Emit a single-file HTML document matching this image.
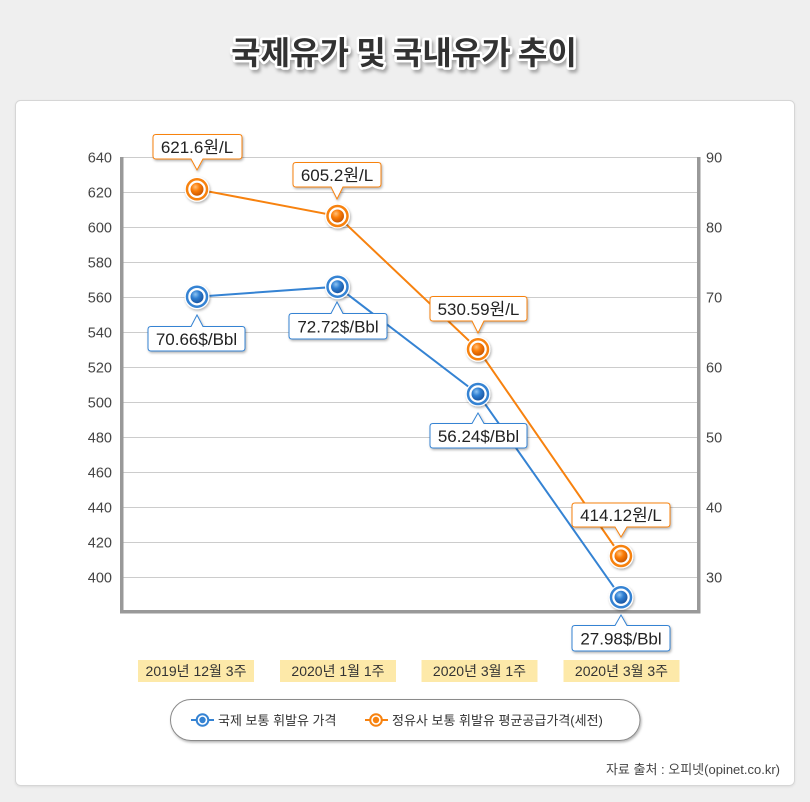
<!DOCTYPE html>
<html><head><meta charset="utf-8">
<style>
html,body{margin:0;padding:0;background:#efefef;}
svg{display:block;}
text{font-family:"Liberation Sans","Noto Sans CJK KR",sans-serif;}
</style></head>
<body>
<svg width="810" height="802" viewBox="0 0 810 802" xmlns="http://www.w3.org/2000/svg">
<defs>
  <filter id="sh" x="-30%" y="-30%" width="160%" height="160%">
    <feDropShadow dx="1" dy="1.5" stdDeviation="1.2" flood-color="#000" flood-opacity="0.3"/>
  </filter>
  <filter id="tsh" x="-10%" y="-30%" width="120%" height="160%">
    <feDropShadow dx="2" dy="3" stdDeviation="1.5" flood-color="#000" flood-opacity="0.3"/>
  </filter>
  <filter id="csh" x="-5%" y="-5%" width="110%" height="110%">
    <feDropShadow dx="0" dy="1" stdDeviation="1" flood-color="#000" flood-opacity="0.08"/>
  </filter>
  <radialGradient id="gO" cx="38%" cy="32%" r="70%">
    <stop offset="0" stop-color="#ffc07a"/>
    <stop offset="0.45" stop-color="#fb7d08"/>
    <stop offset="1" stop-color="#c95600"/>
  </radialGradient>
  <radialGradient id="gB" cx="38%" cy="32%" r="70%">
    <stop offset="0" stop-color="#8fc4f2"/>
    <stop offset="0.45" stop-color="#2f7fd2"/>
    <stop offset="1" stop-color="#1a55a0"/>
  </radialGradient>
</defs>

<!-- title -->
<text x="404" y="64" text-anchor="middle" font-size="32" font-weight="700" fill="#333" stroke="#fff" stroke-width="5" stroke-linejoin="round" paint-order="stroke" filter="url(#tsh)" style="font-family:'Noto Sans CJK KR',sans-serif">국제유가 및 국내유가 추이</text>

<!-- card -->
<rect x="15.5" y="100.5" width="779" height="685" rx="5" fill="#fff" stroke="#d6d6d6" filter="url(#csh)"/>

<!-- grid -->
<g stroke="#cccccc" stroke-width="1">
  <line x1="122" y1="157.5" x2="698" y2="157.5"/>
  <line x1="122" y1="192.5" x2="698" y2="192.5"/>
  <line x1="122" y1="227.5" x2="698" y2="227.5"/>
  <line x1="122" y1="262.5" x2="698" y2="262.5"/>
  <line x1="122" y1="297.5" x2="698" y2="297.5"/>
  <line x1="122" y1="332.5" x2="698" y2="332.5"/>
  <line x1="122" y1="367.5" x2="698" y2="367.5"/>
  <line x1="122" y1="402.5" x2="698" y2="402.5"/>
  <line x1="122" y1="437.5" x2="698" y2="437.5"/>
  <line x1="122" y1="472.5" x2="698" y2="472.5"/>
  <line x1="122" y1="507.5" x2="698" y2="507.5"/>
  <line x1="122" y1="542.5" x2="698" y2="542.5"/>
  <line x1="122" y1="577.5" x2="698" y2="577.5"/>
</g>

<!-- axes -->
<rect x="120" y="157" width="3.5" height="456" fill="#999"/>
<rect x="697" y="157" width="3.5" height="456" fill="#999"/>
<rect x="120" y="610" width="580.5" height="3.5" fill="#999"/>

<!-- left tick labels -->
<g font-size="14.5" fill="#444" text-anchor="end">
  <text x="112" y="162.5">640</text>
  <text x="112" y="197.5">620</text>
  <text x="112" y="232.5">600</text>
  <text x="112" y="267.5">580</text>
  <text x="112" y="302.5">560</text>
  <text x="112" y="337.5">540</text>
  <text x="112" y="372.5">520</text>
  <text x="112" y="407.5">500</text>
  <text x="112" y="442.5">480</text>
  <text x="112" y="477.5">460</text>
  <text x="112" y="512.5">440</text>
  <text x="112" y="547.5">420</text>
  <text x="112" y="582.5">400</text>
</g>
<!-- right tick labels -->
<g font-size="14.5" fill="#444" text-anchor="start">
  <text x="706" y="162.5">90</text>
  <text x="706" y="232.5">80</text>
  <text x="706" y="302.5">70</text>
  <text x="706" y="372.5">60</text>
  <text x="706" y="442.5">50</text>
  <text x="706" y="512.5">40</text>
  <text x="706" y="582.5">30</text>
</g>

<!-- series lines -->
<polyline points="197,296.7 337.5,286.7 478,394 621,597.3" fill="none" stroke="#3583d3" stroke-width="2"/>
<polyline points="197,189.3 337.5,216 478,349.3 621,556" fill="none" stroke="#f7820f" stroke-width="2"/>

<!-- callouts orange (pointer down) -->
<g fill="#fff" stroke="#f7820f" stroke-width="1" filter="url(#sh)">
  <path d="M156,134.5 H239 Q242,134.5 242,137.5 V156 Q242,159 239,159 H203 L197,170 L191,159 H156 Q153,159 153,156 V137.5 Q153,134.5 156,134.5 Z"/>
  <path d="M296,162.5 H378 Q381,162.5 381,165.5 V184 Q381,187 378,187 H343 L337,199 L331,187 H296 Q293,187 293,184 V165.5 Q293,162.5 296,162.5 Z"/>
  <path d="M433,296.5 H524 Q527,296.5 527,299.5 V318 Q527,321 524,321 H484 L478,333 L472,321 H433 Q430,321 430,318 V299.5 Q430,296.5 433,296.5 Z"/>
  <path d="M575,503 H667 Q670,503 670,506 V524 Q670,527 667,527 H627 L621,537 L615,527 H575 Q572,527 572,524 V506 Q572,503 575,503 Z"/>
</g>
<!-- callouts blue (pointer up) -->
<g fill="#fff" stroke="#3583d3" stroke-width="1" filter="url(#sh)">
  <path d="M151,326.5 H191 L197,315 L203,326.5 H242 Q245,326.5 245,329.5 V348 Q245,351 242,351 H151 Q148,351 148,348 V329.5 Q148,326.5 151,326.5 Z"/>
  <path d="M292,313.5 H331 L337,302 L343,313.5 H384 Q387,313.5 387,316.5 V336 Q387,339 384,339 H292 Q289,339 289,336 V316.5 Q289,313.5 292,313.5 Z"/>
  <path d="M433,423.5 H472 L478,413 L484,423.5 H524 Q527,423.5 527,426.5 V445 Q527,448 524,448 H433 Q430,448 430,445 V426.5 Q430,423.5 433,423.5 Z"/>
  <path d="M575,625.5 H615 L621,615 L627,625.5 H667 Q670,625.5 670,628.5 V648 Q670,651 667,651 H575 Q572,651 572,648 V628.5 Q572,625.5 575,625.5 Z"/>
</g>

<g font-size="17" fill="#222" text-anchor="middle">
  <text x="197" y="153">621.6원/L</text>
  <text x="337" y="181">605.2원/L</text>
  <text x="478.5" y="315">530.59원/L</text>
  <text x="621" y="521">414.12원/L</text>
  <text x="196.5" y="345">70.66$/Bbl</text>
  <text x="338" y="332.5">72.72$/Bbl</text>
  <text x="478.5" y="442">56.24$/Bbl</text>
  <text x="621" y="644.5">27.98$/Bbl</text>
</g>

<!-- markers orange -->
<g>
  <g transform="translate(197,189.3)"><circle r="12.5" fill="#fff" filter="url(#sh)"/><circle r="10" fill="#fff" stroke="#f7820f" stroke-width="2.5"/><circle r="6.5" fill="url(#gO)"/></g>
  <g transform="translate(337.5,216)"><circle r="12.5" fill="#fff" filter="url(#sh)"/><circle r="10" fill="#fff" stroke="#f7820f" stroke-width="2.5"/><circle r="6.5" fill="url(#gO)"/></g>
  <g transform="translate(478,349.3)"><circle r="12.5" fill="#fff" filter="url(#sh)"/><circle r="10" fill="#fff" stroke="#f7820f" stroke-width="2.5"/><circle r="6.5" fill="url(#gO)"/></g>
  <g transform="translate(621,556)"><circle r="12.5" fill="#fff" filter="url(#sh)"/><circle r="10" fill="#fff" stroke="#f7820f" stroke-width="2.5"/><circle r="6.5" fill="url(#gO)"/></g>
</g>
<!-- markers blue -->
<g>
  <g transform="translate(197,296.7)"><circle r="12.5" fill="#fff" filter="url(#sh)"/><circle r="10" fill="#fff" stroke="#3583d3" stroke-width="2.5"/><circle r="6.5" fill="url(#gB)"/></g>
  <g transform="translate(337.5,286.7)"><circle r="12.5" fill="#fff" filter="url(#sh)"/><circle r="10" fill="#fff" stroke="#3583d3" stroke-width="2.5"/><circle r="6.5" fill="url(#gB)"/></g>
  <g transform="translate(478,394)"><circle r="12.5" fill="#fff" filter="url(#sh)"/><circle r="10" fill="#fff" stroke="#3583d3" stroke-width="2.5"/><circle r="6.5" fill="url(#gB)"/></g>
  <g transform="translate(621,597.3)"><circle r="12.5" fill="#fff" filter="url(#sh)"/><circle r="10" fill="#fff" stroke="#3583d3" stroke-width="2.5"/><circle r="6.5" fill="url(#gB)"/></g>
</g>

<!-- category labels -->
<g fill="#fde9a9">
  <rect x="138" y="660" width="116" height="22"/>
  <rect x="280" y="660" width="116" height="22"/>
  <rect x="421.5" y="660" width="116" height="22"/>
  <rect x="563.5" y="660" width="116" height="22"/>
</g>
<g font-size="14" fill="#333" text-anchor="middle">
  <text x="196" y="676">2019년 12월 3주</text>
  <text x="338" y="676">2020년 1월 1주</text>
  <text x="479.5" y="676">2020년 3월 1주</text>
  <text x="621.5" y="676">2020년 3월 3주</text>
</g>

<!-- legend -->
<rect x="170.5" y="699.5" width="469.5" height="41" rx="20.5" fill="#fff" stroke="#8a8a8a" stroke-width="1" filter="url(#sh)"/>
<g>
  <line x1="191" y1="720" x2="214" y2="720" stroke="#3583d3" stroke-width="2"/>
  <circle cx="202.5" cy="720" r="5.8" fill="#fff" stroke="#3583d3" stroke-width="2"/>
  <circle cx="202.5" cy="720" r="3.2" fill="#3583d3"/>
  <text x="218" y="725" font-size="13" fill="#333">국제 보통 휘발유 가격</text>
  <line x1="365" y1="720" x2="388" y2="720" stroke="#f7820f" stroke-width="2"/>
  <circle cx="376" cy="720" r="5.8" fill="#fff" stroke="#f7820f" stroke-width="2"/>
  <circle cx="376" cy="720" r="3.2" fill="#f7820f"/>
  <text x="392" y="725" font-size="13" fill="#333">정유사 보통 휘발유 평균공급가격(세전)</text>
</g>

<!-- footer -->
<text x="780" y="774" text-anchor="end" font-size="13" fill="#444">자료 출처 : 오피넷(opinet.co.kr)</text>
</svg>
</body></html>
